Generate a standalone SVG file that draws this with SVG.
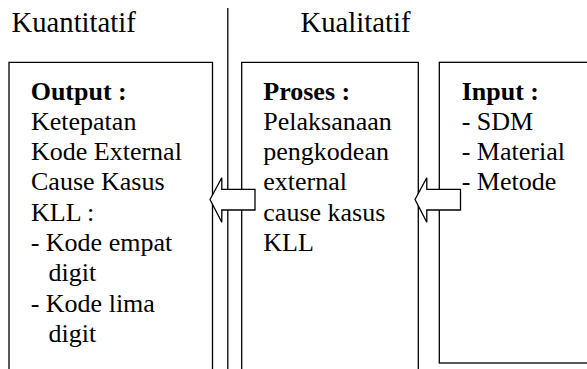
<svg xmlns="http://www.w3.org/2000/svg" width="587" height="369" viewBox="0 0 587 369">
<style>
.t{font-size:26px;fill:#000}
.b{font-weight:bold}
.h{font-size:28.7px;fill:#000}
.box{fill:none;stroke:#000;stroke-width:1.3}
.arr{fill:#fff;stroke:#000;stroke-width:1.3;stroke-linejoin:miter}
</style>
<rect width="587" height="369" fill="#fff"/>
<g font-family="Liberation Serif, serif">
<g id="labels">
<text class="h" x="11.5" y="32.3">Kuantitatif</text>
<text class="h" x="300.5" y="32.3">Kualitatif</text>
</g>
<g id="divider">
<line x1="227.8" y1="8" x2="227.8" y2="369" stroke="#000" stroke-width="1.3"/>
</g>
<g id="output">
<path class="box" d="M9,370 V62.3 H212.5 V370"/>
<text class="t b" x="30.7" y="99.5">Output :</text>
<text class="t" x="31" y="129.8">Ketepatan</text>
<text class="t" x="31" y="160.1">Kode External</text>
<text class="t" x="31" y="190.4">Cause Kasus</text>
<text class="t" x="31" y="220.7">KLL :</text>
<text class="t" x="30.7" y="251">- Kode empat</text>
<text class="t" x="48.5" y="281.3">digit</text>
<text class="t" x="30.7" y="311.6">- Kode lima</text>
<text class="t" x="48.5" y="341.9">digit</text>
</g>
<g id="proses">
<path class="box" d="M241.7,370 V62.3 H418.3 V370"/>
<text class="t b" x="263.3" y="99.5">Proses :</text>
<text class="t" x="263.3" y="129.8">Pelaksanaan</text>
<text class="t" x="263.3" y="160.1">pengkodean</text>
<text class="t" x="263.3" y="190.4">external</text>
<text class="t" x="263.3" y="220.7">cause kasus</text>
<text class="t" x="263.3" y="251">KLL</text>
</g>
<g id="input">
<rect class="box" x="439.3" y="62.3" width="200" height="300.7"/>
<text class="t b" x="461.7" y="99.5">Input :</text>
<text class="t" x="461.7" y="129.8">- SDM</text>
<text class="t" x="461.7" y="160.1">- Material</text>
<text class="t" x="461.7" y="190.4">- Metode</text>
</g>
<g id="connectors">
<polygon class="arr" points="210,199.5 221.8,177.8 221.8,189.3 255,189.3 255,210 221.8,210 221.8,222.3"/>
<polygon class="arr" points="415,199.5 426.8,177.8 426.8,189.3 460.5,189.3 460.5,210 426.8,210 426.8,222.3"/>
</g>
</g>
</svg>
